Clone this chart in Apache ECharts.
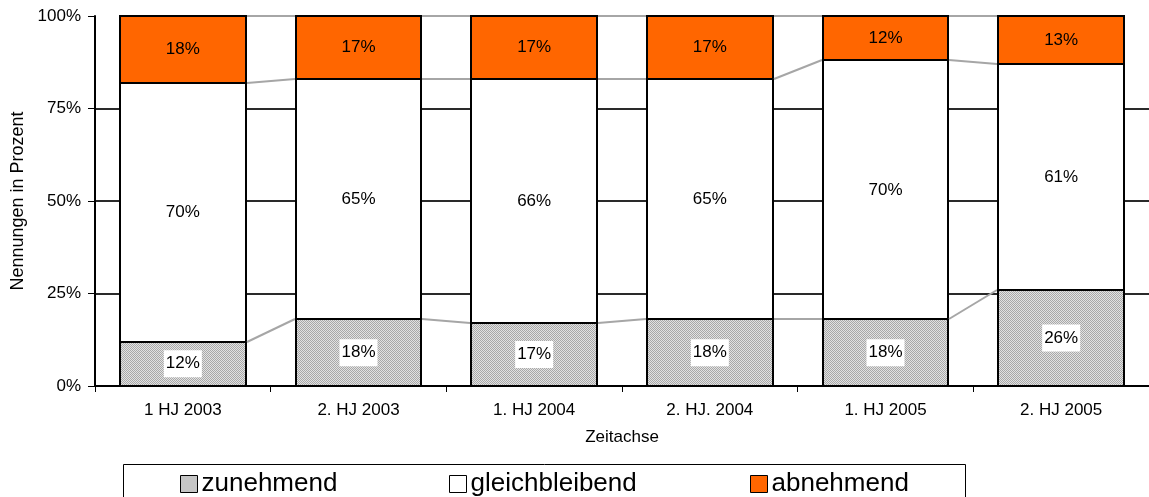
<!DOCTYPE html>
<html>
<head>
<meta charset="utf-8">
<script src="https://cdn.jsdelivr.net/npm/echarts@6/dist/echarts.min.js"></script>
<style>
html, body { margin: 0; padding: 0; background: #fff; }
#chart { width: 1149px; height: 497px; }
</style>
</head>
<body>
<div id="chart"></div>
<script>
const categories = ['1 HJ 2003', '2. HJ 2003', '1. HJ 2004', '2. HJ. 2004', '1. HJ 2005', '2. HJ 2005'];
const zunehmend = [12, 18, 17, 18, 18, 26];
const gleichbleibend = [70, 65, 66, 65, 70, 61];
const abnehmend = [18, 17, 17, 17, 12, 13];
const yTicks = [0, 25, 50, 75, 100];

const FONT = 'Liberation Sans, Arial, sans-serif';
const BAR_RATIO = 126 / 176;

// grey dotted fill like the old excel pattern
function makePattern() {
    const c = document.createElement('canvas');
    c.width = 2; c.height = 2;
    const ctx = c.getContext('2d');
    ctx.fillStyle = '#e2e2e2';
    ctx.fillRect(0, 0, 2, 2);
    ctx.fillStyle = '#a8a8a8';
    ctx.fillRect(0, 0, 1, 1);
    ctx.fillRect(1, 1, 1, 1);
    return { image: c, repeat: 'repeat' };
}

const chart = echarts.init(document.getElementById('chart'));

function levelsAt(i) {
    const a = zunehmend[i];
    const b = a + gleichbleibend[i];
    return [a, b, b + abnehmend[i]];
}

// bar outlines + excel style series lines between the bars
function outlines(params, api) {
    const i = params.dataIndex;
    const half = api.size([1, 0])[0] * BAR_RATIO / 2;
    const lv = levelsAt(i);
    const base = api.coord([i, 0]);
    const topP = api.coord([i, lv[2]]);
    const children = [];
    const x0 = Math.round(base[0] - half), x1 = Math.round(base[0] + half);
    children.push({
        type: 'rect',
        shape: { x: x0, y: Math.round(topP[1]), width: x1 - x0, height: Math.round(base[1]) - Math.round(topP[1]) },
        style: { fill: 'none', stroke: '#000', lineWidth: 2 }
    });
    lv.slice(0, 2).forEach(v => {
        const y = Math.round(api.coord([i, v])[1]);
        children.push({
            type: 'line',
            shape: { x1: x0, y1: y, x2: x1, y2: y },
            style: { stroke: '#000', lineWidth: 2 }
        });
    });
    if (i < categories.length - 1) {
        const nx = levelsAt(i + 1);
        lv.forEach((v, k) => {
            const p1 = api.coord([i, v]);
            const p2 = api.coord([i + 1, nx[k]]);
            children.push({
                type: 'line',
                shape: { x1: x1 + 1, y1: Math.round(p1[1]), x2: Math.round(p2[0] - half) - 1, y2: Math.round(p2[1]) },
                style: { stroke: '#a6a6a6', lineWidth: 2 }
            });
        });
    }
    return { type: 'group', children: children };
}

const barBase = {
    type: 'bar',
    stack: 'total',
    barWidth: (BAR_RATIO * 100) + '%',
    label: {
        show: true,
        position: 'inside',
        formatter: '{c}%',
        color: '#000',
        fontFamily: FONT,
        fontSize: 17
    }
};

const option = {
    animation: false,
    textStyle: { fontFamily: FONT },
    grid: { left: 95, top: 16, width: 1056, height: 370 },
    legend: [
        { left: 180, data: ['zunehmend'] },
        { left: 449, data: ['gleichbleibend'] },
        { left: 750, data: ['abnehmend'] }
    ].map(l => Object.assign({
        top: 471,
        padding: 0,
        icon: 'rect',
        itemWidth: 17,
        itemHeight: 17,
        itemGap: 4,
        selectedMode: false,
        itemStyle: { borderColor: '#000', borderWidth: 1 },
        textStyle: { fontFamily: FONT, fontSize: 26, color: '#000', padding: [0, 0, 0, -1] }
    }, l)),
    graphic: [{
        type: 'rect',
        shape: { x: 123.5, y: 464.5, width: 842, height: 50 },
        style: { fill: 'none', stroke: '#000', lineWidth: 1 },
        z: -1
    }],
    xAxis: {
        type: 'category',
        data: categories,
        name: 'Zeitachse',
        nameLocation: 'middle',
        nameGap: 43,
        nameTextStyle: { fontFamily: FONT, fontSize: 17, color: '#000' },
        axisLine: { lineStyle: { color: '#000', width: 2 } },
        axisTick: { show: true, length: 6, lineStyle: { color: '#000', width: 1 } },
        axisLabel: { fontFamily: FONT, fontSize: 17, color: '#000', margin: 16 }
    },
    yAxis: {
        type: 'value',
        min: yTicks[0],
        max: yTicks[yTicks.length - 1],
        interval: 25,
        name: 'Nennungen in Prozent',
        nameLocation: 'middle',
        nameGap: 68,
        nameTextStyle: { fontFamily: FONT, fontSize: 18, color: '#000' },
        axisLine: { show: true, lineStyle: { color: '#000', width: 2 } },
        axisTick: { show: true, length: 7, lineStyle: { color: '#000', width: 1 } },
        axisLabel: { fontFamily: FONT, fontSize: 17, color: '#000', margin: 14, formatter: '{value}%' },
        splitLine: {
            show: true,
            lineStyle: { color: ['transparent', '#2a2a2a', '#2a2a2a', '#2a2a2a', 'transparent'], width: 2 }
        }
    },
    series: [
        Object.assign({}, barBase, {
            name: 'zunehmend',
            data: zunehmend,
            itemStyle: { color: makePattern() },
            label: Object.assign({}, barBase.label, { backgroundColor: '#fff', padding: [5, 2, 5, 2] })
        }),
        Object.assign({}, barBase, {
            name: 'gleichbleibend',
            data: gleichbleibend,
            itemStyle: { color: '#fff' }
        }),
        Object.assign({}, barBase, {
            name: 'abnehmend',
            data: abnehmend,
            itemStyle: { color: '#ff6600' }
        }),
        {
            type: 'custom',
            name: 'outlines',
            renderItem: outlines,
            data: categories.map((c, i) => i),
            silent: true,
            z: 3
        }
    ]
};

chart.setOption(option);
window.addEventListener('resize', () => chart.resize());
</script>
</body>
</html>
